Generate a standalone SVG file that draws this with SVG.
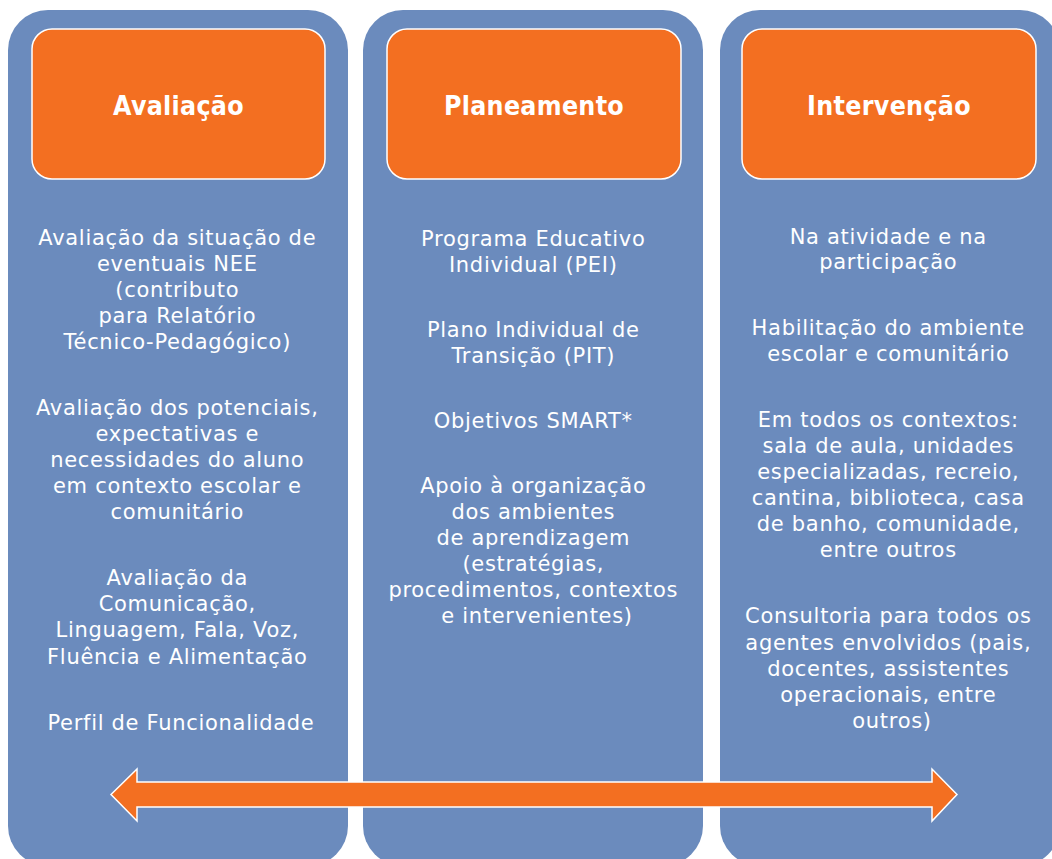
<svg xmlns="http://www.w3.org/2000/svg" width="1052" height="859" viewBox="0 0 1052 859">
<style>
.col{fill:#6B8BBD;}
.hdr{fill:#F36F21;stroke:#FFFFFF;stroke-width:1.5;}
.ht{font-family:"DejaVu Sans Condensed","DejaVu Sans",sans-serif;font-stretch:condensed;font-weight:bold;font-size:26.5px;letter-spacing:0.3px;fill:#FFFFFF;text-anchor:middle;}
.bt{font-family:"DejaVu Sans",sans-serif;font-size:21px;letter-spacing:0.7px;fill:#FFFFFF;text-anchor:middle;}
.arrow{fill:#F36F21;stroke:#FFFFFF;stroke-width:1.5;stroke-linejoin:miter;}
</style>
<rect width="1052" height="859" fill="#FFFFFF"/>
<g id="avaliacao">
<rect class="col" x="8" y="10" width="340" height="856" rx="40" ry="40"/>
<rect class="hdr" x="32" y="29" width="293" height="150" rx="20" ry="20"/>
<text class="ht" x="178.5" y="115">Avaliação</text>
<text class="bt" x="181">
<tspan x="181" y="245">Avaliação da situação de</tspan>
<tspan x="181" y="271">eventuais NEE</tspan>
<tspan x="181" y="297">(contributo</tspan>
<tspan x="181" y="323">para Relatório</tspan>
<tspan x="181" y="349">Técnico-Pedagógico)</tspan>
<tspan x="181" y="415">Avaliação dos potenciais,</tspan>
<tspan x="181" y="441">expectativas e</tspan>
<tspan x="181" y="467">necessidades do aluno</tspan>
<tspan x="181" y="493">em contexto escolar e</tspan>
<tspan x="181" y="519">comunitário</tspan>
<tspan x="181" y="585">Avaliação da</tspan>
<tspan x="181" y="611">Comunicação,</tspan>
<tspan x="181" y="637">Linguagem, Fala, Voz,</tspan>
<tspan x="181" y="664">Fluência e Alimentação</tspan>
<tspan x="181" y="730">Perfil de Funcionalidade</tspan>
</text>
</g>
<g id="planeamento">
<rect class="col" x="363" y="10" width="340" height="856" rx="40" ry="40"/>
<rect class="hdr" x="387" y="29" width="294" height="150" rx="20" ry="20"/>
<text class="ht" x="534" y="115">Planeamento</text>
<text class="bt" x="537">
<tspan x="537" y="246">Programa Educativo</tspan>
<tspan x="537" y="272">Individual (PEI)</tspan>
<tspan x="537" y="337">Plano Individual de</tspan>
<tspan x="537" y="363">Transição (PIT)</tspan>
<tspan x="537" y="428">Objetivos SMART*</tspan>
<tspan x="537" y="493">Apoio à organização</tspan>
<tspan x="537" y="519">dos ambientes</tspan>
<tspan x="537" y="545">de aprendizagem</tspan>
<tspan x="537" y="571">(estratégias,</tspan>
<tspan x="537" y="597">procedimentos, contextos</tspan>
<tspan x="537" y="623">e intervenientes)</tspan>
</text>
</g>
<g id="intervencao">
<rect class="col" x="720" y="10" width="340" height="856" rx="40" ry="40"/>
<rect class="hdr" x="742" y="29" width="294" height="150" rx="20" ry="20"/>
<text class="ht" x="889" y="115">Intervenção</text>
<text class="bt" x="892">
<tspan x="892" y="244">Na atividade e na</tspan>
<tspan x="892" y="269">participação</tspan>
<tspan x="892" y="335">Habilitação do ambiente</tspan>
<tspan x="892" y="361">escolar e comunitário</tspan>
<tspan x="892" y="427">Em todos os contextos:</tspan>
<tspan x="892" y="453">sala de aula, unidades</tspan>
<tspan x="892" y="479">especializadas, recreio,</tspan>
<tspan x="892" y="505">cantina, biblioteca, casa</tspan>
<tspan x="892" y="531">de banho, comunidade,</tspan>
<tspan x="892" y="557">entre outros</tspan>
<tspan x="892" y="623">Consultoria para todos os</tspan>
<tspan x="892" y="650">agentes envolvidos (pais,</tspan>
<tspan x="892" y="676">docentes, assistentes</tspan>
<tspan x="892" y="702">operacionais, entre</tspan>
<tspan x="892" y="728">outros)</tspan>
</text>
</g>
<g id="connectors">
<path class="arrow" d="M111,794.5 L137,769 L137,782 L932,782 L932,769 L957,794.5 L932,821 L932,807 L137,807 L137,821 Z"/>
</g>
</svg>
